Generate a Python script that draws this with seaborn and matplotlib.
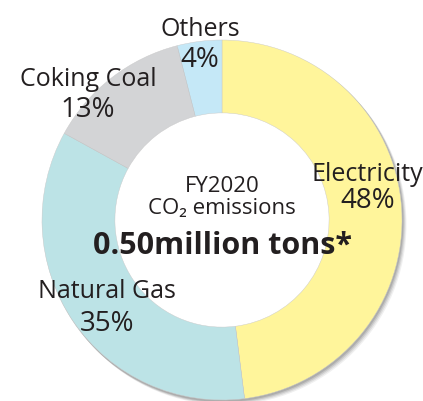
import matplotlib
matplotlib.use("Agg")
import matplotlib.pyplot as plt
from matplotlib.patches import Circle
import seaborn as sns

categories = ["Electricity", "Natural Gas", "Coking Coal", "Others"]
shares = [48, 35, 13, 4]
pct_labels = ["48%", "35%", "13%", "4%"]
colors = ["#FFF59B", "#BCE3E6", "#D3D4D6", "#C5E8F7"]

sns.set_theme(style="white")
plt.rcParams['font.family'] = ['Open Sans', 'DejaVu Sans']

fig = plt.figure(figsize=(4.23, 4.01), dpi=100)
ax = fig.add_axes([0, 0, 1, 1])

cx, cy, R = 222, 220, 180
ring = R * 0.405

# soft drop shadow behind the ring
for i, a in enumerate([0.06, 0.08, 0.10, 0.12]):
    off = 4 - i
    ax.add_patch(Circle((cx + off, cy + off + 0.5), R + 0.5, color="black", alpha=a, lw=0, zorder=0))
ax.add_patch(Circle((cx, cy), R - ring + 1, color="white", lw=0, zorder=0.5))

ax.pie(shares, colors=colors, startangle=-90, counterclock=True, radius=R,
       center=(cx, cy), frame=True,
       wedgeprops=dict(width=ring, linewidth=0.3, edgecolor="#c8c8c8", zorder=1))
ax.set_xlim(0, 423)
ax.set_ylim(401, 0)
ax.set_aspect('equal')
ax.axis('off')

tc = "#231F20"
fs = 18
pfs = 20
label_pos = {"Electricity": (367, 181, 368, 208),
             "Natural Gas": (107, 298, 107, 331),
             "Coking Coal": (88, 86, 88, 117),
             "Others": (200, 36, 200, 67)}
for cat, p in zip(categories, pct_labels):
    x1, y1, x2, y2 = label_pos[cat]
    ax.text(x1, y1, cat, ha='center', va='baseline', fontsize=fs, color=tc, zorder=5)
    ax.text(x2, y2, p, ha='center', va='baseline', fontsize=pfs, color=tc, zorder=5)

ax.text(cx, 192, "FY2020", ha='center', va='baseline', fontsize=16, color=tc)
ax.text(cx, 214, "CO\u2082 emissions", ha='center', va='baseline', fontsize=16, color=tc)
ax.text(cx, 254, "0.50million tons*", ha='center', va='baseline', fontsize=22,
        fontweight='bold', color=tc)

fig.savefig("out.png", dpi=100)
